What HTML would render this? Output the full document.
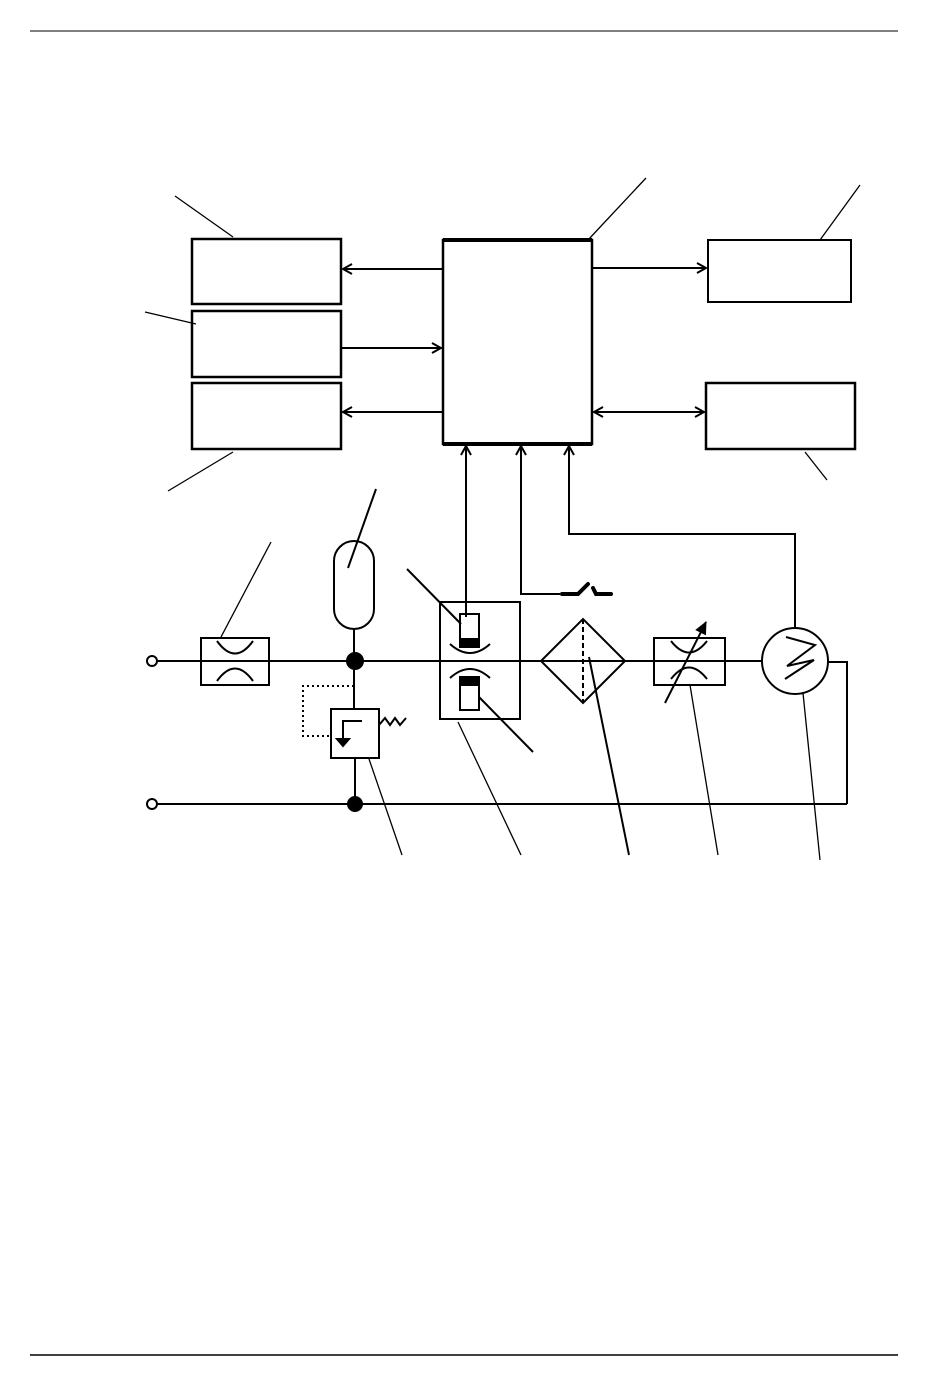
<!DOCTYPE html>
<html><head><style>html,body{margin:0;padding:0;background:#fff}svg{display:block}</style></head>
<body>
<svg width="950" height="1398" viewBox="0 0 950 1398" xmlns="http://www.w3.org/2000/svg">
<defs>
<marker id="a" markerWidth="12" markerHeight="12" refX="10" refY="6" orient="auto-start-reverse" markerUnits="userSpaceOnUse">
<path d="M1,1 L10,6 L1,11" fill="none" stroke="#000" stroke-width="2"/></marker>
<marker id="f" markerWidth="14" markerHeight="14" refX="12" refY="7" orient="auto" markerUnits="userSpaceOnUse">
<path d="M0,1 L13,7 L0,13 Z" fill="#000"/></marker>
</defs>
<g stroke="#000" fill="none" stroke-width="2">
<line x1="30" y1="31" x2="898" y2="31" stroke-width="1"/>
<line x1="30" y1="1355" x2="898" y2="1355" stroke-width="1.5"/>
<!-- boxes -->
<rect x="192" y="239" width="149" height="65" stroke-width="2.5"/>
<rect x="192" y="311" width="149" height="66" stroke-width="2.5"/>
<rect x="192" y="383" width="149" height="66" stroke-width="2.5"/>
<rect x="443" y="240" width="149" height="204" stroke-width="2.5"/>
<line x1="443" y1="240" x2="592" y2="240" stroke-width="4"/>
<line x1="443" y1="444" x2="592" y2="444" stroke-width="4"/>
<rect x="708" y="240" width="143" height="62"/>
<rect x="706" y="383" width="149" height="66" stroke-width="2.5"/>
<!-- arrows -->
<line x1="443" y1="269" x2="343" y2="269" marker-end="url(#a)"/>
<line x1="341" y1="348" x2="441" y2="348" marker-end="url(#a)"/>
<line x1="443" y1="412" x2="343" y2="412" marker-end="url(#a)"/>
<line x1="592" y1="268" x2="706" y2="268" marker-end="url(#a)"/>
<line x1="594" y1="412" x2="704" y2="412" marker-start="url(#a)" marker-end="url(#a)"/>
<line x1="466" y1="617" x2="466" y2="446" marker-end="url(#a)"/>
<polyline points="560,594 521,594 521,446" marker-end="url(#a)"/>
<polyline points="795,628 795,534 569,534 569,446" marker-end="url(#a)"/>
<!-- switch -->
<g stroke-width="4" stroke-linecap="round"><polyline points="562,594 578,594 588,584"/><polyline points="593,588 596,594 611,594"/></g>
<!-- leaders -->
<g stroke-width="1.3">
<line x1="175" y1="196" x2="233" y2="237"/><line x1="145" y1="312" x2="196" y2="324"/>
<line x1="168" y1="491" x2="233" y2="452"/><line x1="646" y1="178" x2="588" y2="240"/>
<line x1="860" y1="185" x2="820" y2="240"/><line x1="805" y1="452" x2="827" y2="480"/>
<line x1="271" y1="542" x2="221" y2="637"/>
<line x1="369" y1="759" x2="402" y2="855"/>
<line x1="458" y1="722" x2="521" y2="855"/>
<line x1="690" y1="685" x2="718" y2="855"/>
<line x1="803" y1="693" x2="820" y2="860"/>
</g>
<line x1="376" y1="489" x2="348" y2="568"/>
<line x1="407" y1="569" x2="461" y2="624"/>
<line x1="479" y1="697" x2="533" y2="752"/>
<line x1="589" y1="657" x2="629" y2="855"/>
<!-- main lines -->
<line x1="157" y1="661" x2="762" y2="661"/>
<circle cx="152" cy="661" r="5"/>
<line x1="157" y1="804" x2="847" y2="804"/>
<circle cx="152" cy="804" r="5"/>
<polyline points="828,662 847,662 847,804"/>
<!-- orifice -->
<rect x="201" y="638" width="68" height="47"/>
<path d="M217,641 Q235,666 253,641"/><path d="M217,681 Q235,656 253,681"/>
<!-- accumulator -->
<rect x="334" y="541" width="40" height="88" rx="20"/>
<line x1="354" y1="629" x2="354" y2="709"/>
<circle cx="355" cy="661" r="8" fill="#000"/>
<polyline points="354,686 303,686 303,736 331,736" stroke-dasharray="2,3"/>
<rect x="331" y="709" width="48" height="49"/>
<polyline points="362,721 343,721 343,741"/>
<path d="M337,739 L349,739 L343,746 Z" fill="#000"/>
<polyline points="379,725 385,718 390,725 395,718 400,725 406,718"/>
<line x1="355" y1="758" x2="355" y2="804"/>
<circle cx="355" cy="804" r="7" fill="#000"/>
<!-- sensor -->
<rect x="440" y="602" width="80" height="117"/>
<rect x="460" y="614" width="19" height="33"/>
<rect x="460" y="639" width="19" height="8" fill="#000"/>
<rect x="460" y="677" width="19" height="33"/>
<rect x="460" y="677" width="19" height="8" fill="#000"/>
<path d="M450,644 Q470,662 490,644"/><path d="M450,678 Q470,660 490,678"/>
<!-- filter -->
<polygon points="541,661 583,619 625,661 583,703"/>
<line x1="583" y1="619" x2="583" y2="703" stroke-dasharray="5,3"/>
<!-- variable orifice -->
<rect x="654" y="638" width="71" height="47"/>
<path d="M671,641 Q689,664 707,641"/><path d="M671,679 Q689,656 707,679"/>
<line x1="665" y1="703" x2="706" y2="622" marker-end="url(#f)"/>
<!-- heater -->
<circle cx="795" cy="661" r="33"/>
<polyline points="786,637 815,645 787,666 814,660 785,679"/>
</g>
</svg>
</body></html>
